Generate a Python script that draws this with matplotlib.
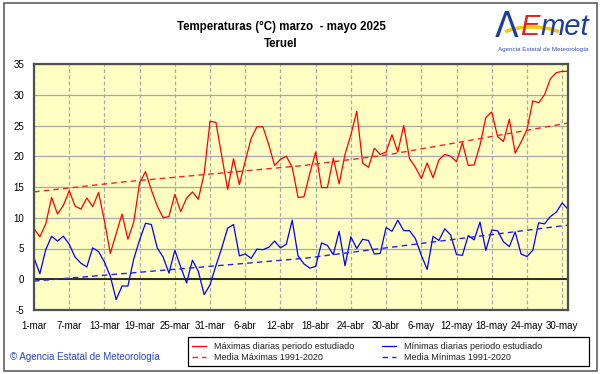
import matplotlib
matplotlib.use("Agg")
import matplotlib.pyplot as plt
from matplotlib.patches import Rectangle, Arc
import numpy as np

plt.rcParams['font.family'] = ['Liberation Sans', 'DejaVu Sans']
plt.rcParams['axes.unicode_minus'] = False

# daily values, 1-mar .. 31-may 2025 (92 days)
tmax = [8.2, 6.9, 9.0, 13.3, 10.6, 12.0, 14.4, 11.9, 11.4, 13.2,
        11.8, 14.1, 9.5, 4.2, 7.4, 10.6, 6.5, 9.3, 15.7, 17.5,
        14.5, 11.9, 10.0, 10.2, 13.8, 11.0, 13.2, 14.2, 13.0, 17.2,
        25.7, 25.5, 20.0, 14.6, 19.6, 15.4, 19.2, 22.9, 24.8, 24.8,
        21.9, 18.5, 19.5, 20.0, 18.2, 13.3, 13.4, 17.2, 20.7, 14.9,
        14.9, 19.7, 15.5, 20.3, 23.5, 27.3, 18.9, 18.2, 21.3, 20.3,
        20.7, 23.5, 20.7, 25.0, 19.6, 18.2, 16.4, 18.9, 16.5, 19.4,
        20.3, 20.0, 19.1, 22.2, 18.5, 18.6, 21.8, 26.3, 27.2, 23.2,
        22.4, 26.0, 20.5, 22.3, 24.3, 29.0, 28.7, 30.0, 32.6, 33.6,
        33.8, 33.8]
tmin = [3.5, 0.9, 4.8, 7.0, 6.2, 7.0, 5.7, 3.6, 2.6, 2.0,
        5.1, 4.5, 2.8, 0.5, -3.3, -1.1, -1.1, 3.3, 6.4, 9.1,
        8.9, 5.1, 3.6, 1.0, 4.7, 2.0, -0.6, 3.1, 1.3, -2.5,
        -0.9, 2.2, 5.1, 8.3, 8.9, 3.8, 4.1, 3.4, 4.9, 4.8,
        5.2, 6.2, 5.1, 5.7, 9.6, 3.8, 2.5, 1.8, 2.1, 5.9,
        5.5, 4.0, 7.8, 2.2, 6.9, 5.0, 6.5, 6.3, 4.1, 4.2,
        8.4, 7.8, 9.6, 7.9, 7.9, 6.6, 3.9, 1.6, 7.0, 6.3,
        8.2, 7.2, 4.0, 3.9, 7.1, 6.4, 9.3, 4.7, 8.0, 7.9,
        6.1, 5.3, 7.7, 4.1, 3.7, 4.7, 9.2, 9.0, 10.2, 10.9,
        12.4, 11.4]

# 1991-2020 normals read at a few days
norm_days = [0, 15, 30, 46, 60, 75, 91]
norm_max = [14.2, 15.8, 17.1, 18.5, 20.2, 22.7, 25.4]
norm_min = [-0.3, 0.9, 2.1, 3.4, 5.1, 6.9, 8.8]

tick_days = list(range(0, 92, 6))
tick_labels = ['1-mar', '7-mar', '13-mar', '19-mar', '25-mar', '31-mar',
               '6-abr', '12-abr', '18-abr', '24-abr', '30-abr',
               '6-may', '12-may', '18-may', '24-may', '30-may']

W, H = 601, 374
fig = plt.figure(figsize=(W / 100, H / 100), dpi=100)
fig.patch.set_facecolor('white')

ax = fig.add_axes([34 / W, 1 - 310 / H, (568 - 34) / W, (310 - 64) / H])
ax.set_facecolor('#ffffc4')

days = np.arange(len(tmax))
l1, = ax.plot(days, tmax, color='#ff0000', lw=0.9)
l2, = ax.plot(norm_days, norm_max, color='#ff2020', lw=1.0, dashes=(4, 3))
l3, = ax.plot(days, tmin, color='#0000ff', lw=0.9)
l4, = ax.plot(norm_days, norm_min, color='#2020ff', lw=1.0, dashes=(4, 3))

ax.set_xlim(0, 91)
ax.set_ylim(-5, 35)
ax.set_yticks(range(-5, 36, 5))
ax.set_xticks(tick_days)
ax.set_xticklabels(tick_labels)
ax.tick_params(length=0, labelsize=7, colors='#000000')
ax.tick_params(axis='y', pad=7)
ax.tick_params(axis='x', pad=8)

for y in range(-5, 36, 5):
    ax.axhline(y, color='#a8a8a8', lw=0.9, zorder=0.5)
for d in tick_days:
    ax.axvline(d, color='#a8a8a8', lw=0.9, ls=(0, (3, 2)), zorder=0.5)
ax.axhline(0, color='#202020', lw=1.3, zorder=1)

for s in ax.spines.values():
    s.set_color('#505050')
    s.set_linewidth(1.6)

# titles
fig.text(281 / W, 1 - 27 / H, 'Temperaturas (°C) marzo  - mayo 2025',
         ha='center', va='center', fontsize=8.3, fontweight='bold')
fig.text(281 / W, 1 - 44 / H, 'Teruel', ha='center', va='center',
         fontsize=8.3, fontweight='bold')

# logo, pieces placed side by side
renderer = fig.canvas.get_renderer()
x0 = 495
parts = [('Λ', '#1e3c9c', 25, 'DejaVu Sans', 'normal'),
         ('E', '#e02020', 21, 'Liberation Sans', 'italic'),
         ('met', '#1e3c9c', 21, 'Liberation Sans', 'italic')]
for s, c, fs, fam, st in parts:
    t = fig.text(x0 / W, 1 - 27 / H, s, color=c, fontsize=fs, family=fam,
                 style=st, ha='left', va='center')
    bb = t.get_window_extent(renderer)
    x0 += bb.width + 1
arc = Arc((532 / W, 1 - 38 / H), 64 / W, 22 / H, theta1=20, theta2=160,
          transform=fig.transFigure, color='#f5c800', lw=2.5)
fig.add_artist(arc)
fig.text(543 / W, 1 - 50 / H, 'Agencia Estatal de Meteorología',
         color='#3050b0', fontsize=4.5, ha='center', va='center')

# footer
fig.text(10 / W, 1 - 357 / H, '© Agencia Estatal de Meteorología',
         color='#2848c0', fontsize=7, ha='left', va='center')

# legend, box drawn separately
fig.add_artist(Rectangle((188 / W, 1 - 366 / H), (589 - 188) / W, 29 / H,
                         transform=fig.transFigure, facecolor='white',
                         edgecolor='#000000', lw=0.9))
leg = fig.legend([l1, l2, l3, l4],
                 ['Máximas diarias periodo estudiado', 'Media Máximas 1991-2020',
                  'Mínimas diarias periodo estudiado', 'Media Mínimas 1991-2020'],
                 ncol=2, loc='center left',
                 bbox_to_anchor=(190 / W, 1 - 352 / H),
                 fontsize=6.5, frameon=False,
                 borderpad=0.2, labelspacing=0.2, handlelength=1.6,
                 handletextpad=0.9, columnspacing=3.0, borderaxespad=0)
for t in leg.get_texts():
    t.set_color('#202020')

fig.add_artist(Rectangle((4 / W, 1 - 371 / H), 593 / W, 368 / H,
                         transform=fig.transFigure, fill=False,
                         edgecolor='#606060', lw=1.2))

fig.savefig('out.png', dpi=100)
